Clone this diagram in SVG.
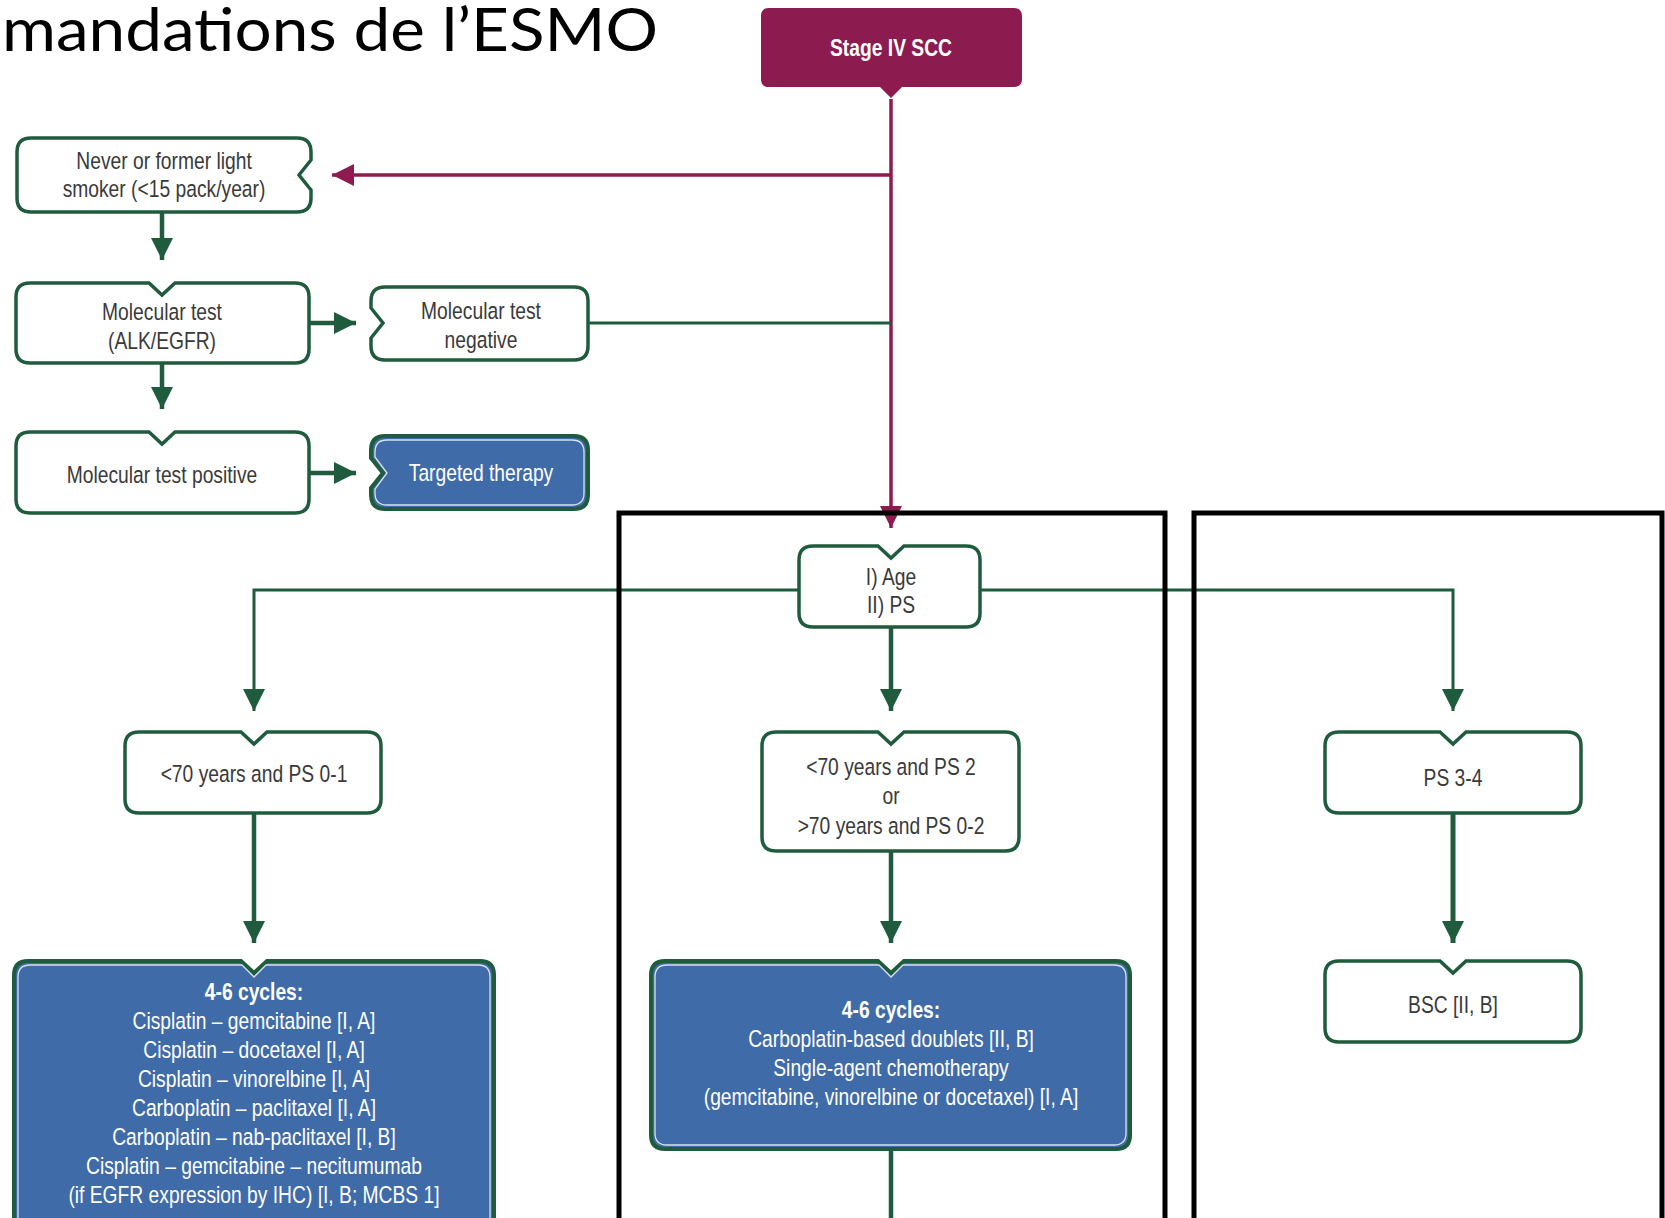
<svg xmlns="http://www.w3.org/2000/svg" width="1665" height="1218" viewBox="0 0 1665 1218">
<defs>
<style>
.t{font-family:"Liberation Sans",Arial,sans-serif;font-size:23.5px;fill:#3a3a3a;text-anchor:middle}
.w{fill:#ffffff}
.b{font-weight:bold}
.box{fill:#ffffff;stroke:#1f5b3d;stroke-width:3.5}
.blue{fill:#3f6ba8;stroke:#1f5b3d;stroke-width:4}
.inner{fill:none;stroke:#ffffff;stroke-width:1.3;opacity:0.8}
.g{stroke:#1f5b3d;fill:none}
.m{stroke:#8c1c4f;fill:none;stroke-width:3.5}
.frame{fill:none;stroke:#000000;stroke-width:5}
</style>
<marker id="ag" viewBox="0 0 10 10" refX="10" refY="5" markerWidth="22" markerHeight="24" markerUnits="userSpaceOnUse" orient="auto"><path d="M0,0 L10,5 L0,10 Z" fill="#1f5b3d"/></marker>
<marker id="am" viewBox="0 0 10 10" refX="10" refY="5" markerWidth="22" markerHeight="24" markerUnits="userSpaceOnUse" orient="auto"><path d="M0,0 L10,5 L0,10 Z" fill="#8c1c4f"/></marker>
</defs>
<rect width="1665" height="1218" fill="#ffffff"/>
<text x="2" y="51" font-family="Lato,'Open Sans',sans-serif" font-size="60" fill="#000000" textLength="656" lengthAdjust="spacingAndGlyphs">mandations de l’ESMO</text>

<g id="connectors">
<path class="m" d="M891,99 V528" marker-end="url(#am)"/>
<path class="m" d="M891,175 H332" marker-end="url(#am)"/>
<path class="g" stroke-width="4.5" d="M162,212 V260" marker-end="url(#ag)"/>
<path class="g" stroke-width="4.5" d="M309,323 H356" marker-end="url(#ag)"/>
<path class="g" stroke-width="3" d="M588,323 H891"/>
<path class="g" stroke-width="4.5" d="M162,363 V409" marker-end="url(#ag)"/>
<path class="g" stroke-width="4.5" d="M309,473 H356" marker-end="url(#ag)"/>
<path class="g" stroke-width="3" d="M799,590 H254 V711" marker-end="url(#ag)"/>
<path class="g" stroke-width="3" d="M980,590 H1453 V711" marker-end="url(#ag)"/>
<path class="g" stroke-width="4.5" d="M891,627 V711" marker-end="url(#ag)"/>
<path class="g" stroke-width="4.5" d="M254,813 V943" marker-end="url(#ag)"/>
<path class="g" stroke-width="4.5" d="M891,851 V943" marker-end="url(#ag)"/>
<path class="g" stroke-width="5" d="M1453,813 V943" marker-end="url(#ag)"/>
<path class="g" stroke-width="4.5" d="M891,1149 V1218"/>
</g>

<g id="stage">
<path d="M769,8 H1014 Q1022,8 1022,16 V79 Q1022,87 1014,87 H902 L891,98 L880,87 H769 Q761,87 761,79 V16 Q761,8 769,8 Z" fill="#8c1c4f"/>
<g transform="translate(891,0) scale(0.82,1)"><text class="t w b" x="0" y="56" font-size="24">Stage IV SCC</text></g>
</g>

<g id="never">
<path class="box" d="M31,138 H297 Q311,138 311,152 V160 L299,175 L311,190 V198 Q311,212 297,212 H31 Q17,212 17,198 V152 Q17,138 31,138 Z"/>
<g transform="translate(164,0) scale(0.82,1)">
<text class="t" x="0" y="169">Never or former light</text>
<text class="t" x="0" y="197">smoker (&lt;15 pack/year)</text>
</g>
</g>

<g id="moltest">
<path class="box" d="M30,283 H149 L162,295 L175,283 H295 Q309,283 309,297 V349 Q309,363 295,363 H30 Q16,363 16,349 V297 Q16,283 30,283 Z"/>
<g transform="translate(162,0) scale(0.82,1)">
<text class="t" x="0" y="320">Molecular test</text>
<text class="t" x="0" y="349">(ALK/EGFR)</text>
</g>
</g>

<g id="negative">
<path class="box" d="M385,287 H574 Q588,287 588,301 V346 Q588,360 574,360 H385 Q371,360 371,346 V338 L383,323 L371,308 V301 Q371,287 385,287 Z"/>
<g transform="translate(481,0) scale(0.82,1)">
<text class="t" x="0" y="319">Molecular test</text>
<text class="t" x="0" y="348">negative</text>
</g>
</g>

<g id="positive">
<path class="box" d="M30,432 H149 L162,444 L175,432 H295 Q309,432 309,446 V499 Q309,513 295,513 H30 Q16,513 16,499 V446 Q16,432 30,432 Z"/>
<g transform="translate(162,0) scale(0.82,1)">
<text class="t" x="0" y="483">Molecular test positive</text>
</g>
</g>

<g id="targeted">
<path class="blue" d="M385,436 H574 Q588,436 588,450 V495 Q588,509 574,509 H385 Q371,509 371,495 V488 L383,473 L371,458 V450 Q371,436 385,436 Z"/>
<path class="inner" d="M387,440 H572 Q584,440 584,452 V493 Q584,505 572,505 H387 Q375,505 375,493 V489 L387,473 L375,457 V452 Q375,440 387,440 Z"/>
<g transform="translate(481,0) scale(0.82,1)">
<text class="t w" x="0" y="481">Targeted therapy</text>
</g>
</g>

<g id="age">
<path class="box" d="M813,546 H878 L891,558 L904,546 H966 Q980,546 980,560 V613 Q980,627 966,627 H813 Q799,627 799,613 V560 Q799,546 813,546 Z"/>
<g transform="translate(891,0) scale(0.82,1)">
<text class="t" x="0" y="585">I) Age</text>
<text class="t" x="0" y="613">II) PS</text>
</g>
</g>

<g id="young">
<path class="box" d="M139,732 H241 L254,744 L267,732 H367 Q381,732 381,746 V799 Q381,813 367,813 H139 Q125,813 125,799 V746 Q125,732 139,732 Z"/>
<g transform="translate(254,0) scale(0.82,1)">
<text class="t" x="0" y="782">&lt;70 years and PS 0-1</text>
</g>
</g>

<g id="mid">
<path class="box" d="M776,732 H878 L891,744 L904,732 H1005 Q1019,732 1019,746 V837 Q1019,851 1005,851 H776 Q762,851 762,837 V746 Q762,732 776,732 Z"/>
<g transform="translate(891,0) scale(0.82,1)">
<text class="t" x="0" y="775">&lt;70 years and PS 2</text>
<text class="t" x="0" y="804">or</text>
<text class="t" x="0" y="834">&gt;70 years and PS 0-2</text>
</g>
</g>

<g id="ps34">
<path class="box" d="M1339,732 H1440 L1453,744 L1466,732 H1567 Q1581,732 1581,746 V799 Q1581,813 1567,813 H1339 Q1325,813 1325,799 V746 Q1325,732 1339,732 Z"/>
<g transform="translate(1453,0) scale(0.82,1)">
<text class="t" x="0" y="786">PS 3-4</text>
</g>
</g>

<g id="leftchemo">
<path class="blue" d="M28,961 H241 L254,973 L267,961 H480 Q494,961 494,975 V1230 H14 V975 Q14,961 28,961 Z"/>
<path class="inner" d="M30,965 H242 L254,977 L266,965 H478 Q490,965 490,977 V1230 H18 V977 Q18,965 30,965 Z"/>
<g transform="translate(254,0) scale(0.82,1)">
<text class="t w b" x="0" y="1000">4-6 cycles:</text>
<text class="t w" x="0" y="1029">Cisplatin – gemcitabine [I, A]</text>
<text class="t w" x="0" y="1058">Cisplatin – docetaxel [I, A]</text>
<text class="t w" x="0" y="1087">Cisplatin – vinorelbine [I, A]</text>
<text class="t w" x="0" y="1116">Carboplatin – paclitaxel [I, A]</text>
<text class="t w" x="0" y="1145">Carboplatin – nab-paclitaxel [I, B]</text>
<text class="t w" x="0" y="1174">Cisplatin – gemcitabine – necitumumab</text>
<text class="t w" x="0" y="1203">(if EGFR expression by IHC) [I, B; MCBS 1]</text>
</g>
</g>

<g id="midchemo">
<path class="blue" d="M665,961 H878 L891,973 L904,961 H1116 Q1130,961 1130,975 V1135 Q1130,1149 1116,1149 H665 Q651,1149 651,1135 V975 Q651,961 665,961 Z"/>
<path class="inner" d="M667,965 H879 L891,977 L903,965 H1114 Q1126,965 1126,977 V1133 Q1126,1145 1114,1145 H667 Q655,1145 655,1133 V977 Q655,965 667,965 Z"/>
<g transform="translate(891,0) scale(0.82,1)">
<text class="t w b" x="0" y="1018">4-6 cycles:</text>
<text class="t w" x="0" y="1047">Carboplatin-based doublets [II, B]</text>
<text class="t w" x="0" y="1076">Single-agent chemotherapy</text>
<text class="t w" x="0" y="1105">(gemcitabine, vinorelbine or docetaxel) [I, A]</text>
</g>
</g>

<g id="bsc">
<path class="box" d="M1339,961 H1440 L1453,973 L1466,961 H1567 Q1581,961 1581,975 V1028 Q1581,1042 1567,1042 H1339 Q1325,1042 1325,1028 V975 Q1325,961 1339,961 Z"/>
<g transform="translate(1453,0) scale(0.82,1)">
<text class="t" x="0" y="1013">BSC [II, B]</text>
</g>
</g>

<g id="frames">
<path class="frame" d="M619,1225 V513 H1165 V1225"/>
<path class="frame" d="M1194,1225 V513 H1662 V1225"/>
</g>
</svg>
